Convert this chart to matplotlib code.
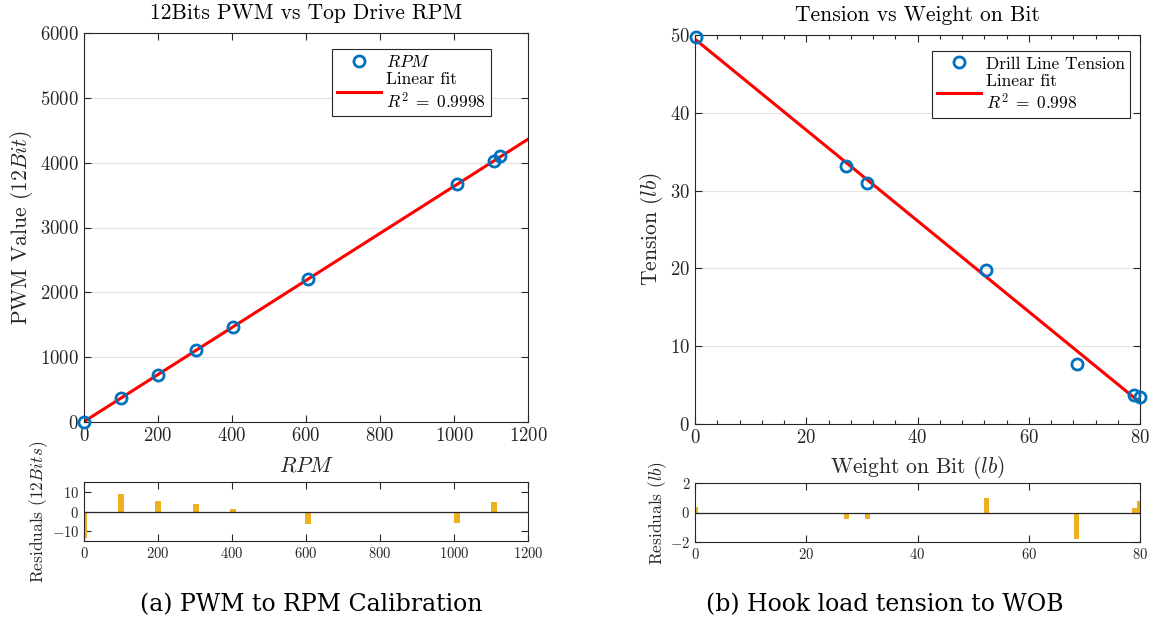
import numpy as np
import matplotlib
matplotlib.use("Agg")
import matplotlib.pyplot as plt
from matplotlib.ticker import MultipleLocator

plt.rcParams['font.family'] = ['cmr10', 'DejaVu Serif']
plt.rcParams['mathtext.fontset'] = 'cm'
plt.rcParams['axes.unicode_minus'] = False
plt.rcParams['axes.formatter.use_mathtext'] = True

# ---- data (a) ----
rpm = [0, 100, 200, 302, 402, 606, 1009, 1108, 1125]
pwm = [0, 376, 731, 1107, 1462, 2204, 3666, 4021, 4099]
pwm_resid = [-13.3, 8.7, 5.5, 3.9, 1.4, -6.2, -5.6, 5.0, -1.0]
r2_a = "0.9998"

# ---- data (b) ----
wob = [0.1, 27.2, 31.0, 52.4, 68.6, 79.0, 80.0]
tension = [49.8, 33.2, 31.0, 19.8, 7.75, 3.77, 3.47]
ten_resid = [0.39, -0.46, -0.46, 1.0, -1.8, 0.3, 0.8]
r2_b = "0.998"

W, H = 1153, 625
fig = plt.figure(figsize=(W / 100, H / 100), dpi=100)

AX = '#262626'
BLUE = '#0072BD'
RED = '#FF0000'
GOLD = '#EDB120'


def rect(l, t, r, b):
    return [l / W, 1 - b / H, (r - l) / W, (b - t) / H]


def style(ax, fs):
    for s in ax.spines.values():
        s.set_color(AX)
        s.set_linewidth(0.8)
    ax.tick_params(which='both', direction='in', top=True, right=True,
                   colors=AX, labelsize=fs, length=5, width=0.8)
    ax.tick_params(which='minor', length=3)


def legend(ax, anchor):
    lg = ax.legend(loc='upper right', bbox_to_anchor=anchor, borderaxespad=0,
                   fontsize=12.5, fancybox=False, framealpha=1, edgecolor=AX,
                   handlelength=2.5, borderpad=0.3, labelspacing=0.1,
                   handletextpad=0.3)
    lg.get_frame().set_linewidth(0.8)
    return lg


# ---------- (a) main ----------
ax1 = fig.add_axes(rect(84, 33, 528, 422))
p = np.polyfit(rpm, pwm, 1)
xf = np.array([0, 1200])
ax1.plot(rpm, pwm, 'o', mfc='none', mec=BLUE, mew=2, ms=8, label='$RPM$',
         zorder=3, clip_on=False)
ax1.plot(xf, np.polyval(p, xf), '-', color=RED, lw=2.2,
         label='Linear fit\n$R^2\\;=\\;' + r2_a + '$', zorder=2)
ax1.set_xlim(0, 1200)
ax1.set_ylim(0, 6000)
ax1.xaxis.set_major_locator(MultipleLocator(200))
ax1.yaxis.set_major_locator(MultipleLocator(1000))
ax1.yaxis.grid(True, color='#e3e3e3', lw=0.8)
ax1.set_axisbelow(True)
style(ax1, 13.5)
ax1.set_title('12Bits PWM vs Top Drive RPM', fontsize=15.5, color='black', pad=10)
ax1.set_ylabel('PWM Value ($12Bit$)', fontsize=15.5, color=AX, labelpad=4)
ax1.set_xlabel('$RPM$', fontsize=15.5, color=AX, labelpad=8)
legend(ax1, ((491 - 84) / 444, (422 - 49) / 389))

# ---------- (a) residuals ----------
ax2 = fig.add_axes(rect(84, 482, 528, 541))
ax2.bar(rpm, pwm_resid, width=16, color=GOLD, zorder=2)
ax2.axhline(0, color=AX, lw=0.9, zorder=3)
ax2.set_xlim(0, 1200)
ax2.set_ylim(-15, 15)
ax2.xaxis.set_major_locator(MultipleLocator(200))
ax2.set_yticks([-10, 0, 10])
style(ax2, 10.5)
ax2.set_ylabel('Residuals ($12Bits$)', fontsize=12.5, color=AX, labelpad=1)

# ---------- (b) main ----------
ax3 = fig.add_axes(rect(695, 35, 1140, 424))
q = np.polyfit(wob, tension, 1)
xg = np.array([0, 80])
ax3.plot(wob, tension, 'o', mfc='none', mec=BLUE, mew=2, ms=8,
         label='Drill Line Tension', zorder=3, clip_on=False)
ax3.plot(xg, np.polyval(q, xg), '-', color=RED, lw=2.2,
         label='Linear fit\n$R^2\\;=\\;' + r2_b + '$', zorder=2)
ax3.set_xlim(0, 80)
ax3.set_ylim(0, 50)
ax3.xaxis.set_major_locator(MultipleLocator(20))
ax3.xaxis.set_minor_locator(MultipleLocator(4))
ax3.yaxis.set_major_locator(MultipleLocator(10))
ax3.yaxis.grid(True, color='#e3e3e3', lw=0.8)
ax3.set_axisbelow(True)
style(ax3, 13.5)
ax3.set_title('Tension vs Weight on Bit', fontsize=15.5, color='black', pad=10)
ax3.set_ylabel('Tension ($lb$)', fontsize=15.5, color=AX, labelpad=4)
ax3.set_xlabel('Weight on Bit ($lb$)', fontsize=15.5, color=AX, labelpad=5)
legend(ax3, ((1130 - 695) / 445, (424 - 51) / 389))

# ---------- (b) residuals ----------
ax4 = fig.add_axes(rect(695, 483, 1140, 542))
ax4.bar(wob, ten_resid, width=1.0, color=GOLD, zorder=2)
ax4.axhline(0, color=AX, lw=0.9, zorder=3)
ax4.set_xlim(0, 80)
ax4.set_ylim(-2, 2)
ax4.xaxis.set_major_locator(MultipleLocator(20))
ax4.set_yticks([-2, 0, 2])
style(ax4, 10.5)
ax4.set_ylabel('Residuals ($lb$)', fontsize=12.5, color=AX, labelpad=1)

# ---------- captions ----------
fig.text(311 / W, 1 - 605 / H, '(a) PWM to RPM Calibration', ha='center', va='center',
         fontsize=17, family='DejaVu Serif')
fig.text(885 / W, 1 - 605 / H, '(b) Hook load tension to WOB', ha='center', va='center',
         fontsize=17, family='DejaVu Serif')

fig.savefig('out.png', dpi=100)
